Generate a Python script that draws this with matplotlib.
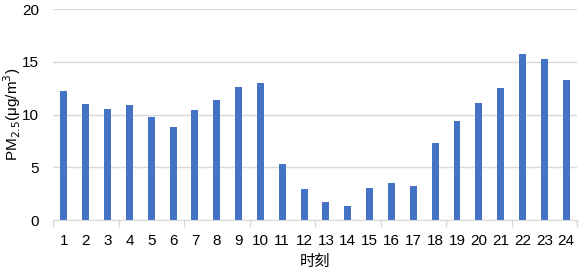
import matplotlib
matplotlib.use("Agg")
import matplotlib.pyplot as plt
import numpy as np

# hourly PM2.5
hours = [str(h) for h in range(1, 25)]
pm25 = [12.2, 11.0, 10.5, 10.9, 9.75, 8.8, 10.45, 11.4, 12.65, 13.0,
        5.3, 2.9, 1.7, 1.3, 3.0, 3.5, 3.25, 7.3, 9.4, 11.1,
        12.55, 15.75, 15.25, 13.25]
yticks = [0, 5, 10, 15, 20]

plt.rcParams['font.family'] = ['Liberation Sans', 'Noto Sans CJK SC', 'DejaVu Sans']

fig = plt.figure(figsize=(5.8, 2.75), dpi=100)
ax = fig.add_axes([0.0914, 0.2, 0.9036, 0.767])

x = np.arange(len(hours))
ax.bar(x, pm25, width=0.32, color='#4472C4', zorder=3)

ax.set_xlim(-0.5, len(hours) - 0.5)
ax.set_ylim(0, 20)
ax.set_yticks(yticks)
ax.set_xticks(x)
ax.set_xticklabels(hours)
ax.set_xticks(np.arange(-0.5, len(hours), 3), minor=True)

ax.grid(axis='y', color='#D9D9D9', linewidth=1, zorder=0)
for s in ['top', 'right', 'left']:
    ax.spines[s].set_visible(False)
ax.spines['bottom'].set_color('#D9D9D9')
ax.spines['bottom'].set_zorder(4)

ax.tick_params(axis='both', which='major', length=0, labelsize=11, colors='black')
ax.tick_params(axis='x', which='major', pad=10)
ax.tick_params(axis='y', which='major', pad=10)
ax.tick_params(axis='x', which='minor', length=5, color='#D9D9D9', width=1)

ax.set_ylabel('PM$_{2.5}$(μg/m$^3$)', fontsize=11)
ax.yaxis.set_label_coords(-0.058, 0.5)
ax.set_xlabel('时刻', fontsize=11, family=['Noto Sans CJK SC', 'DejaVu Sans'])
ax.xaxis.set_label_coords(0.5, -0.155)

fig.savefig('out.png', dpi=100)
